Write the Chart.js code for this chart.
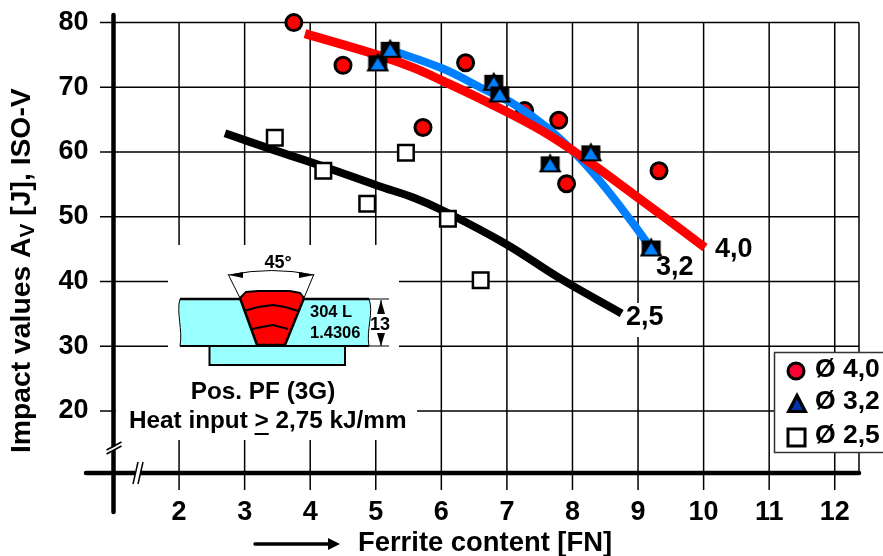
<!DOCTYPE html>
<html>
<head>
<meta charset="utf-8">
<title>Impact values</title>
<script src="https://cdn.jsdelivr.net/npm/chart.js@4"></script>
<style>
  html, body { margin: 0; padding: 0; background: #fff; }
  canvas { display: block; }
</style>
</head>
<body>
<canvas id="myChart" width="883" height="556"></canvas>
<script>
var xTicks = [2, 3, 4, 5, 6, 7, 8, 9, 10, 11, 12];
var yTicks = [20, 30, 40, 50, 60, 70, 80];

// puntos medidos
var circleX = [3.75, 4.5, 5.72, 6.37, 7.27, 7.79, 7.91, 9.32];
var circleY = [80, 73.4, 63.8, 73.8, 66.4, 64.9, 55.1, 57.1];
var triangleX = [5.03, 5.22, 6.8, 6.89, 7.66, 8.28, 9.2];
var triangleY = [73.7, 75.8, 70.7, 68.9, 58.1, 59.8, 45.1];
var squareX = [3.46, 4.2, 4.87, 5.46, 6.1, 6.6];
var squareY = [62.2, 57.1, 52, 59.9, 49.7, 40.2];

// curvas de tendencia
var redX = [3.92, 5.06, 5.57, 6.02, 6.74, 7.53, 8.18, 9.06, 10.02];
var redY = [78.3, 74.9, 73.05, 71, 67.5, 63.3, 59, 52.5, 45.25];
var blueX = [5.22, 6.02, 6.63, 7.09, 7.61, 8.07, 8.45, 8.89, 9.2];
var blueY = [75.8, 72.9, 69.8, 67.5, 63.8, 59.46, 55.14, 49.42, 45.1];
var blackX = [2.7, 3.46, 4.2, 5.03, 5.6, 6.02, 6.97, 7.81, 8.75];
var blackY = [62.9, 60.26, 57.76, 54.8, 52.87, 50.97, 45.87, 40.47, 35.06];

var legendLabels = ["Ø 4,0", "Ø 3,2", "Ø 2,5"];
var FONT = '"Liberation Sans", Arial, sans-serif';

function puntos(xs, ys) {
    return xs.map(function (x, i) { return { x: x, y: ys[i] }; });
}

function texto(ctx, str, x, y, size, align) {
    ctx.font = "bold " + size + "px " + FONT;
    ctx.fillStyle = "#000";
    ctx.textAlign = align || "left";
    ctx.textBaseline = "middle";
    ctx.fillText(str, x, y);
}

function linea(ctx, pts, width, close) {
    ctx.beginPath();
    ctx.moveTo(pts[0][0], pts[0][1]);
    for (var i = 1; i < pts.length; i++) ctx.lineTo(pts[i][0], pts[i][1]);
    if (close) ctx.closePath();
    if (width) {
        ctx.lineWidth = width;
        ctx.strokeStyle = "#000";
        ctx.stroke();
    }
}

// triangulo con el fondo negro que tiene el original
function crearTriangulo() {
    var c = document.createElement("canvas");
    c.width = 28;
    c.height = 28;
    var g = c.getContext("2d");
    g.fillStyle = "#000";
    g.fillRect(4.5, 6, 19, 15);
    linea(g, [[14, 3], [25.5, 22], [2.5, 22]], 0, true);
    g.fill();
    g.fillStyle = "#0080ff";
    linea(g, [[14, 8.5], [21, 20], [7, 20]], 0, true);
    g.fill();
    return c;
}

function dibujarGrid(chart) {
    var ctx = chart.ctx;
    var sx = chart.scales.x;
    var sy = chart.scales.y;
    var area = chart.chartArea;
    var top = sy.getPixelForValue(80);
    ctx.save();

    xTicks.forEach(function (v) {
        var p = sx.getPixelForValue(v);
        linea(ctx, [[p, top], [p, 490]], 1.5);
    });
    yTicks.forEach(function (v) {
        var p = sy.getPixelForValue(v);
        linea(ctx, [[100, p], [area.right, p]], 1.5);
    });
    linea(ctx, [[area.right, top], [area.right, area.bottom]], 1.5);

    // fondo blanco del dibujo y de la etiqueta 2,5
    ctx.fillStyle = "#fff";
    ctx.fillRect(168, 245, 231, 195);
    ctx.fillRect(116, 400, 301, 40);
    ctx.fillRect(625, 303, 43, 34);

    // ejes
    ctx.lineCap = "round";
    linea(ctx, [[area.left, 15], [area.left, 512]], 4.5);
    linea(ctx, [[86, area.bottom], [area.right, area.bottom]], 4.5);
    ctx.lineCap = "butt";

    // cortes de los ejes
    ctx.fillStyle = "#fff";
    ctx.beginPath();
    ctx.moveTo(108, 450); ctx.lineTo(120, 444); ctx.lineTo(120, 447); ctx.lineTo(108, 453);
    ctx.closePath(); ctx.fill();
    linea(ctx, [[106.5, 450], [121.5, 442]], 1.5);
    linea(ctx, [[106.5, 454], [121.5, 446]], 1.5);
    ctx.fillRect(135, 468, 5, 10);
    linea(ctx, [[133, 484], [138, 462]], 1.5);
    linea(ctx, [[138, 484], [143, 462]], 1.5);

    dibujarInset(ctx);
    ctx.restore();
}

function dibujarInset(ctx) {
    // placa
    ctx.fillStyle = "#99ffff";
    ctx.beginPath();
    ctx.moveTo(180, 299);
    ctx.lineTo(369, 299);
    ctx.bezierCurveTo(374, 312, 366, 330, 369, 346);
    ctx.lineTo(180, 346);
    ctx.bezierCurveTo(183, 330, 176, 312, 180, 299);
    ctx.closePath();
    ctx.fill();
    ctx.lineWidth = 1;
    ctx.strokeStyle = "#000";
    ctx.stroke();
    linea(ctx, [[180, 299], [369, 299]], 2.5);
    linea(ctx, [[180, 346], [369, 346]], 2);

    // respaldo
    ctx.fillRect(209, 346, 136, 19);
    ctx.lineWidth = 2;
    ctx.strokeRect(209.5, 346, 135.5, 19);

    // soldadura
    ctx.fillStyle = "#ff0000";
    ctx.beginPath();
    ctx.moveTo(240, 298);
    ctx.quadraticCurveTo(244, 292, 256, 291);
    ctx.lineTo(290, 291);
    ctx.quadraticCurveTo(300, 292, 304, 298);
    ctx.lineTo(285, 345);
    ctx.lineTo(257, 345);
    ctx.closePath();
    ctx.fill();
    linea(ctx, [[240, 298], [257, 345], [285, 345], [304, 298]], 2.5);
    linea(ctx, [[240, 298], [228, 274]], 1);
    linea(ctx, [[304, 298], [314, 274]], 1);
    linea(ctx, [[240, 298], [246, 292], [258, 291], [290, 291], [300, 293], [304, 298]], 2);
    linea(ctx, [[244, 311], [258, 307], [273, 305], [285, 307], [298, 311]], 2);
    linea(ctx, [[252, 329], [262, 327], [273, 325], [288, 329]], 2);

    // cota del angulo
    ctx.beginPath();
    ctx.moveTo(229, 275);
    ctx.quadraticCurveTo(272, 266, 314, 275);
    ctx.lineWidth = 1;
    ctx.stroke();
    ctx.fillStyle = "#000";
    linea(ctx, [[229, 275], [243, 272], [243, 278]], 0, true);
    ctx.fill();
    linea(ctx, [[314, 275], [299, 272], [299, 278]], 0, true);
    ctx.fill();

    // cota del espesor
    linea(ctx, [[369, 299], [389, 299]], 1);
    linea(ctx, [[369, 346], [389, 346]], 1);
    linea(ctx, [[381, 300], [381, 314]], 1);
    linea(ctx, [[381, 334], [381, 346]], 1);
    linea(ctx, [[381, 300], [377, 314], [385, 314]], 0, true);
    ctx.fill();
    linea(ctx, [[381, 346], [377, 333], [385, 333]], 0, true);
    ctx.fill();

    texto(ctx, "45°", 278, 263, 18, "center");
    texto(ctx, "304 L", 310, 312, 16.5);
    texto(ctx, "1.4306", 310, 333, 16.5);
    texto(ctx, "13", 380, 325, 18, "center");
    texto(ctx, "Pos. PF (3G)", 263, 392, 24.3, "center");

    texto(ctx, "Heat input ", 129, 421, 24.3);
    var x = 129 + ctx.measureText("Heat input ").width;
    texto(ctx, ">", x, 421, 24.3);
    var w = ctx.measureText(">").width;
    ctx.fillRect(x, 433, w, 2);
    texto(ctx, " 2,75 kJ/mm", x + w, 421, 24.3);
}

function dibujarTextos(chart) {
    var ctx = chart.ctx;
    ctx.save();

    // leyenda
    ctx.fillStyle = "#fff";
    ctx.fillRect(774.5, 352.5, 109, 100);
    ctx.lineWidth = 1.5;
    ctx.strokeStyle = "#333";
    ctx.strokeRect(774.5, 352.5, 110, 100);

    ctx.beginPath();
    ctx.arc(796, 371, 8, 0, Math.PI * 2);
    ctx.fillStyle = "#ff0033";
    ctx.fill();
    ctx.lineWidth = 3;
    ctx.strokeStyle = "#000";
    ctx.stroke();

    ctx.fillStyle = "#000";
    linea(ctx, [[797, 392], [808, 413], [786, 413]], 0, true);
    ctx.fill();
    ctx.fillStyle = "#0033aa";
    linea(ctx, [[797, 399], [802.5, 410], [791.5, 410]], 0, true);
    ctx.fill();

    ctx.fillStyle = "#fff";
    ctx.fillRect(788, 429, 17, 17);
    ctx.lineWidth = 3;
    ctx.strokeStyle = "#000";
    ctx.strokeRect(788, 429, 17, 17);

    texto(ctx, legendLabels[0], 815, 370, 26.5);
    texto(ctx, legendLabels[1], 815, 402, 26.5);
    texto(ctx, legendLabels[2], 815, 436, 26.5);

    // etiquetas de las curvas
    texto(ctx, "4,0", 715, 250, 27);
    texto(ctx, "3,2", 656, 268, 27);
    texto(ctx, "2,5", 626, 318, 27);

    // titulo del eje x y su flecha
    texto(ctx, "Ferrite content [FN]", 358, 543, 27.4);
    ctx.lineCap = "round";
    linea(ctx, [[255, 544], [330, 544]], 3.5);
    ctx.lineCap = "butt";
    ctx.fillStyle = "#000";
    linea(ctx, [[340, 544], [328, 538], [328, 550]], 0, true);
    ctx.fill();

    // titulo del eje y, con subindice
    ctx.translate(22, 453);
    ctx.rotate(-Math.PI / 2);
    texto(ctx, "Impact values A", 0, 0, 28.3);
    var x = ctx.measureText("Impact values A").width;
    texto(ctx, "V", x, 6, 21);
    x += ctx.measureText("V").width;
    texto(ctx, " [J], ISO-V", x, 0, 28.3);
    ctx.restore();
}

var fondoPlugin = {
    id: "fondo",
    beforeDatasetsDraw: dibujarGrid,
    afterDraw: dibujarTextos
};

var ctx = document.getElementById("myChart").getContext("2d");
var myChart = new Chart(ctx, {
    type: "scatter",
    data: {
        datasets: [
            {
                label: "Ø 4,0",
                data: puntos(circleX, circleY),
                pointStyle: "circle",
                pointRadius: 8,
                pointBackgroundColor: "#ff0000",
                pointBorderColor: "#000",
                pointBorderWidth: 3,
                clip: false,
                order: 6
            },
            {
                label: "curva 2,5",
                data: puntos(blackX, blackY),
                showLine: true,
                borderColor: "#000",
                borderWidth: 8,
                pointRadius: 0,
                tension: 0.4,
                clip: false,
                order: 5
            },
            {
                label: "curva 3,2",
                data: puntos(blueX, blueY),
                showLine: true,
                borderColor: "#0080ff",
                borderWidth: 8,
                pointRadius: 0,
                tension: 0.4,
                clip: false,
                order: 4
            },
            {
                label: "curva 4,0",
                data: puntos(redX, redY),
                showLine: true,
                borderColor: "#ff0000",
                borderWidth: 9,
                pointRadius: 0,
                tension: 0.4,
                clip: false,
                order: 3
            },
            {
                label: "Ø 2,5",
                data: puntos(squareX, squareY),
                pointStyle: "rect",
                pointRadius: 11,
                pointBackgroundColor: "#fff",
                pointBorderColor: "#000",
                pointBorderWidth: 2.5,
                clip: false,
                order: 2
            },
            {
                label: "Ø 3,2",
                data: puntos(triangleX, triangleY),
                pointStyle: crearTriangulo(),
                clip: false,
                order: 1
            }
        ]
    },
    options: {
        responsive: false,
        animation: false,
        layout: { padding: { top: 15.5, right: 24, left: 0, bottom: 0 } },
        plugins: {
            legend: { display: false },
            tooltip: { enabled: false }
        },
        scales: {
            x: {
                type: "linear",
                min: 1,
                max: 12.37,
                afterFit: function (s) {
                    s.height = 83;
                    s.paddingLeft = 0;
                    s.paddingRight = 0;
                },
                afterBuildTicks: function (s) {
                    s.ticks = xTicks.map(function (v) { return { value: v }; });
                },
                border: { display: false },
                grid: { display: false },
                ticks: {
                    autoSkip: false,
                    maxRotation: 0,
                    padding: 15,
                    color: "#000",
                    font: { family: FONT, size: 27, weight: "bold" }
                }
            },
            y: {
                type: "linear",
                min: 10.4,
                max: 81.1,
                afterFit: function (s) {
                    s.width = 113.5;
                    s.paddingTop = 0;
                    s.paddingBottom = 0;
                },
                afterBuildTicks: function (s) {
                    s.ticks = yTicks.map(function (v) { return { value: v }; });
                },
                border: { display: false },
                grid: { display: false },
                ticks: {
                    autoSkip: false,
                    padding: 17,
                    color: "#000",
                    font: { family: FONT, size: 27, weight: "bold" }
                }
            }
        }
    },
    plugins: [fondoPlugin]
});
</script>
</body>
</html>
